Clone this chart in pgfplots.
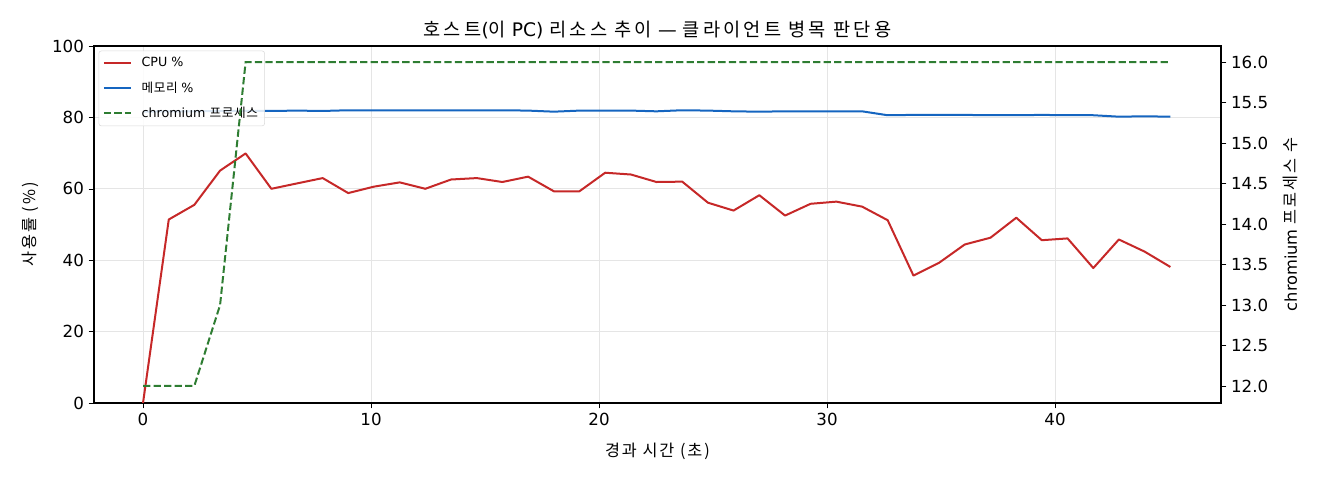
\documentclass[border=0pt]{standalone}
\usepackage{pgfplots}
\pgfplotsset{compat=1.18}
\usepackage{pgfplotstable}
\usepackage{fontspec}
\setmainfont{DejaVu Sans}
\newfontfamily\kr[LetterSpace=12]{Noto Sans CJK KR}
\newfontfamily\krt[LetterSpace=17]{Noto Sans CJK KR}
\newfontfamily\krl[LetterSpace=5]{Noto Sans CJK KR}

\definecolor{cpured}{HTML}{C62828}
\definecolor{memblue}{HTML}{1565C0}
\definecolor{procgreen}{HTML}{2E7D32}

\pgfplotstableread{
t     cpu   mem   proc
0.00  0.0   81.6  12
1.13  51.4  81.7  12
2.25  55.5  81.7  12
3.38  65.1  81.8  13
4.50  69.9  81.8  16
5.63  60.0  81.8  16
6.75  61.5  81.9  16
7.88  63.0  81.8  16
9.00  58.8  82.0  16
10.13 60.6  82.0  16
11.26 61.8  82.0  16
12.38 60.0  82.0  16
13.51 62.6  82.0  16
14.64 63.0  82.0  16
15.76 61.9  82.0  16
16.89 63.4  81.9  16
18.02 59.3  81.6  16
19.14 59.3  81.9  16
20.27 64.5  81.9  16
21.40 64.0  81.9  16
22.52 61.9  81.7  16
23.65 62.0  82.0  16
24.78 56.1  81.9  16
25.90 53.9  81.7  16
27.03 58.2  81.6  16
28.16 52.5  81.7  16
29.28 55.8  81.7  16
30.41 56.4  81.7  16
31.54 55.0  81.7  16
32.66 51.2  80.6  16
33.79 35.7  80.7  16
34.92 39.3  80.7  16
36.04 44.4  80.7  16
37.17 46.3  80.6  16
38.30 51.9  80.6  16
39.42 45.6  80.7  16
40.55 46.1  80.6  16
41.68 37.8  80.6  16
42.80 45.8  80.2  16
43.93 42.4  80.3  16
45.06 38.1  80.2  16
}\datatable

\begin{document}
\begin{tikzpicture}[font=\fontsize{12.5pt}{14pt}\selectfont]
\begin{axis}[
  name=ax,
  scale only axis,
  width=845.25pt, height=267.75pt,
  xmin=-2.15, xmax=47.28,
  ymin=0, ymax=100,
  xtick={0,10,20,30,40},
  ytick={0,20,40,60,80,100},
  xtick pos=bottom, ytick pos=left,
  tick align=outside,
  tick style={black, thin},
  major tick length=4pt,
  grid=major,
  grid style={gray!20, line width=0.5pt},
  axis line style={black, line width=0.8pt},
  /pgf/number format/assume math mode=true,
  ticklabel style={font=\fontsize{12.5pt}{14pt}\selectfont},
  xlabel={\kr 경과 시간 (초)},
  ylabel={\kr 사용률 (\%)},
  label style={font=\fontsize{12.2pt}{14pt}\selectfont},
  xlabel style={yshift=-6.5pt},
  ylabel style={yshift=3.5pt},
  title={{\krt 호스트}({\krt 이} PC) {\krt 리소스 추이} — {\krt 클라이언트 병목 판단용}},
  title style={font=\fontsize{14pt}{16pt}\selectfont, yshift=-4.5pt},
  legend style={at={(0.004,0.987)}, anchor=north west,
    font=\fontsize{9.5pt}{11pt}\selectfont,
    draw=gray!30, fill=white, fill opacity=0.85, text opacity=1,
    rounded corners=2pt, row sep=5.5pt, inner sep=3pt},
  legend cell align=left,
  legend image code/.code={\draw[#1] (0cm,0cm) -- (0.72cm,0cm); \path (0.9cm,0cm);},
]
\addplot[cpured, line width=1.5pt, line join=round] table[x=t, y=cpu] {\datatable};
\addlegendentry{CPU \%}
\addplot[memblue, line width=1.5pt, line join=round] table[x=t, y=mem] {\datatable};
\addlegendentry{\krl 메모리 {\rmfamily\%}}
\addlegendimage{procgreen, line width=1.5pt, dash pattern=on 5.5pt off 2.4pt}
\addlegendentry{chromium {\krl 프로세스}}
\end{axis}
\begin{axis}[
  scale only axis,
  width=845.25pt, height=267.75pt,
  xmin=-2.15, xmax=47.28,
  ymin=11.79, ymax=16.198,
  axis y line*=right,
  axis x line=none,
  tick align=outside,
  tick style={black, thin},
  major tick length=4pt,
  axis line style={black, line width=0.8pt},
  ytick={12,12.5,13,13.5,14,14.5,15,15.5,16},
  ticklabel style={font=\fontsize{12.5pt}{14pt}\selectfont},
  yticklabel style={/pgf/number format/.cd, fixed, fixed zerofill, precision=1, assume math mode=true},
  ylabel={chromium {\kr 프로세스 수}},
  label style={font=\fontsize{12.2pt}{14pt}\selectfont},
  ylabel style={yshift=-4.5pt},
]
\addplot[procgreen, line width=1.5pt, dash pattern=on 5.5pt off 2.4pt] table[x=t, y=proc] {\datatable};
\end{axis}
\pgfresetboundingbox
\path ([shift={(-70.5pt,-57.75pt)}]ax.south west) rectangle ([shift={(74.25pt,34.5pt)}]ax.north east);
\end{tikzpicture}
\end{document}
